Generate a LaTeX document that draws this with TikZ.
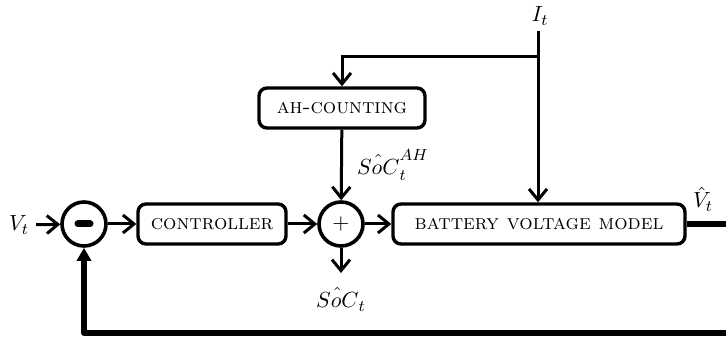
\documentclass[tikz,border=0pt]{standalone}
\usepackage{amsmath,amssymb}
\usetikzlibrary{arrows.meta, positioning, calc}

\begin{document}
\begin{tikzpicture}[x=0.5pt, y=0.5pt,
  every node/.style={font=\fontsize{11}{13}\selectfont},
  block/.style={draw, line width=1.7pt, rounded corners=4pt, minimum height=20pt, inner sep=0pt, font=\fontsize{10.5}{12}\selectfont\scshape},
  sumnode/.style={draw, line width=1.8pt, circle, minimum size=22pt, inner sep=0pt},
  sig/.style={line width=1.5pt, -{Straight Barb[length=5.5pt,width=9pt,line width=1.5pt]}},
  fb/.style={line width=2.6pt, line join=round, -{Triangle[length=6.5pt,width=7pt]}}]
  \clip (0,0) rectangle (726,341);
  \node[sumnode] (minus) at (84,117) {};
  \draw[line width=3.5pt, line cap=round] ([xshift=-3pt]minus.center) -- ([xshift=3pt]minus.center);
  \node (vt) at (19,116) {$V_t$};
  \node[block, minimum width=74pt] (ctrl) at (212,117) {controller};
  \node[sumnode] (plus) at (341,117) {$+$};
  \node[block, minimum width=146pt] (batt) at (539,117) {battery voltage model};
  \node[block, minimum width=83pt] (ah) at (342,233) {ah-counting};
  \node (it) at (540,325) {$I_t$};
  \coordinate (itop) at (538,310);
  \coordinate (split) at (538,284);
  \coordinate (ahin) at (342,284);
  \coordinate (socout) at (341,68);
  \node (soc) at (341,42) {$\hat{SoC}_t$};
  \node[anchor=west] (socah) at (350,176) {$\hat{SoC}_t^{AH}$};
  \node (vhat) at (703,142) {$\hat{V}_t$};
  \coordinate (fbr) at (760,117);
  \coordinate (fbc) at (760,8);
  \coordinate (fbl) at (84,8);

  \draw[sig] (vt) -- (minus);
  \draw[sig] (minus) -- (ctrl);
  \draw[sig] (ctrl) -- (plus);
  \draw[sig] (plus) -- (batt);
  \draw[sig] (ah) -- (plus);
  \draw[sig] (plus) -- (socout);
  \draw[sig] (itop) -- (batt.north -| itop);
  \draw[sig] (split) -- (ahin) -- (ah.north);
  \draw[fb] (batt.east) -- (fbr) -- (fbc) -- (fbl) -- (minus.south);
\end{tikzpicture}
\end{document}
